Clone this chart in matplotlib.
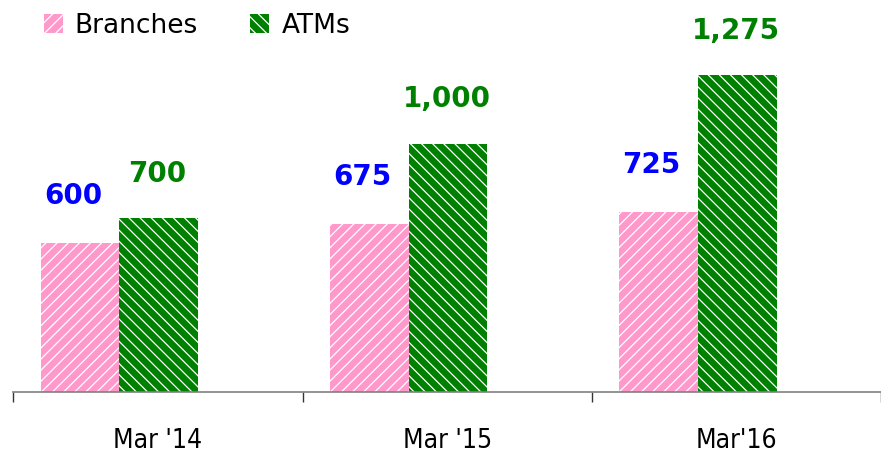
import matplotlib.pyplot as plt
import numpy as np
from matplotlib.patches import Patch

plt.rcParams['hatch.linewidth'] = 0.9

categories = ["Mar '14", "Mar '15", "Mar'16"]
branches = [600, 675, 725]
atms = [700, 1000, 1275]
branch_labels = ["600", "675", "725"]
atm_labels = ["700", "1,000", "1,275"]

pink = '#ff99cc'
green = '#008000'
blue = '#0000ff'

fig = plt.figure(figsize=(8.81, 4.55), dpi=100)
ax = fig.add_axes([13.3 / 881, 63 / 455, 1 - 13.3 / 881, 392 / 455])

x = np.arange(len(categories))
off = 0.095
w = 0.272
ax.bar(x + off, branches, width=w, align='edge', color=pink,
       hatch='///', edgecolor='white', linewidth=0)
ax.bar(x + off + w, atms, width=w, align='edge', color=green,
       hatch='\\\\\\', edgecolor='white', linewidth=0)

# value labels above bars
for i in range(len(categories)):
    ax.annotate(branch_labels[i], (x[i] + off + w / 2, branches[i]),
                xytext=(-5, 34), textcoords='offset points', ha='center', va='center',
                fontsize=20, fontweight='bold', color=blue)
    ax.annotate(atm_labels[i], (x[i] + off + 1.5 * w, atms[i]),
                xytext=(-1, 32), textcoords='offset points', ha='center', va='center',
                fontsize=20, fontweight='bold', color=green)

ax.set_xlim(0, 2.971)
ax.set_ylim(0, 392 / 0.2485)

for s in ['top', 'right', 'left']:
    ax.spines[s].set_visible(False)
ax.spines['bottom'].set_color('#808080')
ax.spines['bottom'].set_linewidth(1.2)
ax.set_yticks([])

ax.set_xticks(np.arange(len(categories) + 1))
ax.set_xticklabels([])
ax.tick_params(axis='x', which='major', length=7.5, width=1, color='#333333')
ax.set_xticks(x + 0.5, minor=True)
ax.set_xticklabels(categories, minor=True, family='DejaVu Sans',
                   stretch='condensed', fontsize=19)
ax.tick_params(axis='x', which='minor', length=0, pad=26)

handles = [Patch(facecolor=pink, hatch='///', edgecolor='white', linewidth=0, label='Branches'),
           Patch(facecolor=green, hatch='\\\\\\', edgecolor='white', linewidth=0, label='ATMs')]
fig.legend(handles=handles, loc='center left', bbox_to_anchor=(33 / 881, 1 - 26 / 455),
           ncol=2, frameon=False, fontsize=19, handlelength=0.72, handleheight=0.72,
           handletextpad=0.45, columnspacing=2.0, borderaxespad=0)

fig.savefig('out.png', dpi=100)
